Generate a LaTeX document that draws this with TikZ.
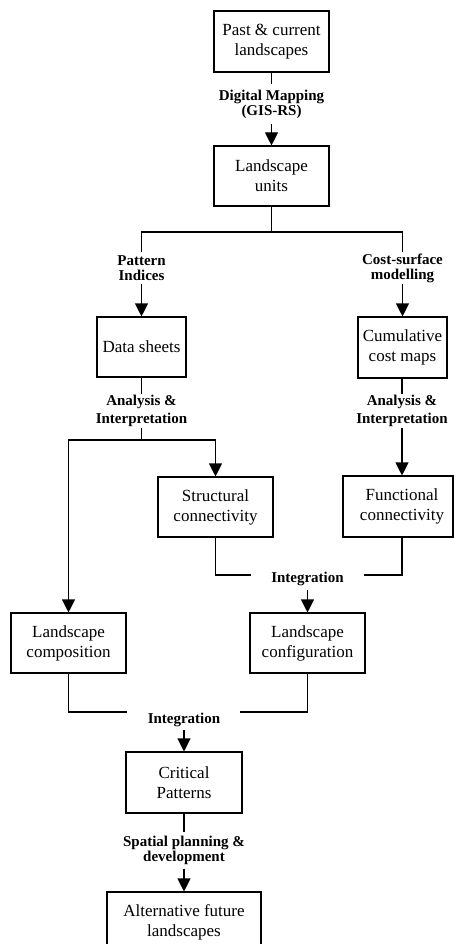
\documentclass[tikz,border=0pt]{standalone}
\usepackage{fontspec}
\setmainfont{Liberation Serif}
\usetikzlibrary{arrows.meta,calc}
\begin{document}
\begin{tikzpicture}[x=1pt,y=-1pt,
  line width=1.1pt,
  box/.style={draw,line width=1.1pt,inner sep=0pt,align=center,
    font=\fontsize{17}{20}\selectfont},
  boxtext/.style={inner sep=0pt,align=center,font=\fontsize{17}{20}\selectfont},
  lbl/.style={inner sep=0pt,align=center,font=\bfseries\fontsize{15}{15}\selectfont},
  lbltall/.style={inner sep=0pt,align=center,font=\bfseries\fontsize{15}{18}\selectfont},
  arr/.style={-{Triangle[width=13pt,length=13pt]}}]
\useasboundingbox (0,0) rectangle (454,944);
\clip (0,0) rectangle (454,944);
\fill[white] (0,0) rectangle (454,944);

% boxes
\node[box,minimum width=115pt,minimum height=61pt] (b1) at (271.5,41.5) {Past \& current\\landscapes};
\node[box,minimum width=115pt,minimum height=60pt] (b2) at (271.5,176) {Landscape\\units};
\node[box,minimum width=89pt,minimum height=60pt] (ds) at (141.5,347) {Data sheets};
\node[box,minimum width=89pt,minimum height=61pt] (cc) at (402.5,347.5) {Cumulative\\cost maps};
\node[box,minimum width=115pt,minimum height=60pt] (sc) at (215.5,507) {Structural\\connectivity};
\node[box,minimum width=110pt,minimum height=61pt] (fc) at (398,506.5) {};
\node[boxtext] (fct) at (402,506.5) {Functional\\connectivity};
\node[box,minimum width=115pt,minimum height=60pt] (lcomp) at (68.5,643) {Landscape\\composition};
\node[box,minimum width=115pt,minimum height=60pt] (lconf) at (307.5,643) {Landscape\\configuration};
\node[box,minimum width=116pt,minimum height=61pt] (cp) at (184,782.5) {Critical\\Patterns};
\node[box,minimum width=154pt,minimum height=61pt] (alt) at (184,922.5) {Alternative future\\landscapes};

% labels
\node[lbl,minimum height=38pt] (dm) at (271.5,104) {Digital Mapping\\(GIS-RS)};
\node[lbl,minimum height=30pt] (pi) at (141.5,268) {Pattern\\Indices};
\node[lbl,minimum height=30pt] (cs) at (402.5,268) {Cost-surface\\modelling};
\node[lbltall,minimum height=32pt] (ai1) at (141.5,411) {Analysis \&\\Interpretation};
\node[lbltall,minimum height=32pt] (ai2) at (402,411) {Analysis \&\\Interpretation};
\node[lbl,minimum height=20pt] (i1) at (307.5,579) {Integration};
\node[lbl,minimum height=18pt] (i2) at (184,720) {Integration};
\node[lbl,minimum height=35pt] (sp) at (184,850.5) {Spatial planning \&\\development};

% junction points
\coordinate (s1) at (271.5,232);
\coordinate (s2) at (141.5,440);
\coordinate (j1) at (307.5,575);
\coordinate (j2) at (184,712);

% connectors
\draw (b1.south) -- (dm.north);
\draw[arr] (dm.south) -- (b2.north);

\draw (b2.south) -- (s1);
\draw (s1) -| (pi.north);
\draw (s1) -| (cs.north);
\draw[arr] (pi.south) -- (pi.south |- ds.north);
\draw[arr] (cs.south) -- (cs.south |- cc.north);

\draw (ds.south) -- (ai1.north);
\draw (ai1.south) -- (s2);
\draw[arr] (s2) -| (sc.north);
\draw[arr] (s2) -| (lcomp.north);

\draw (cc.south -| ai2.north) -- (ai2.north);
\draw[arr] (ai2.south) -- (ai2.south |- fc.north);

\draw (sc.south) |- ([xshift=-56.5pt]j1);
\draw (fc.south -| fct.center) |- ([xshift=56.5pt]j1);
\draw[arr] (i1.south) -- (i1.south |- lconf.north);

\draw (lcomp.south) |- ([xshift=-57pt]j2);
\draw (lconf.south) |- ([xshift=56pt]j2);
\draw[arr] (i2.south) -- (cp.north);

\draw (cp.south) -- (sp.north);
\draw[arr] (sp.south) -- (alt.north);
\end{tikzpicture}
\end{document}
